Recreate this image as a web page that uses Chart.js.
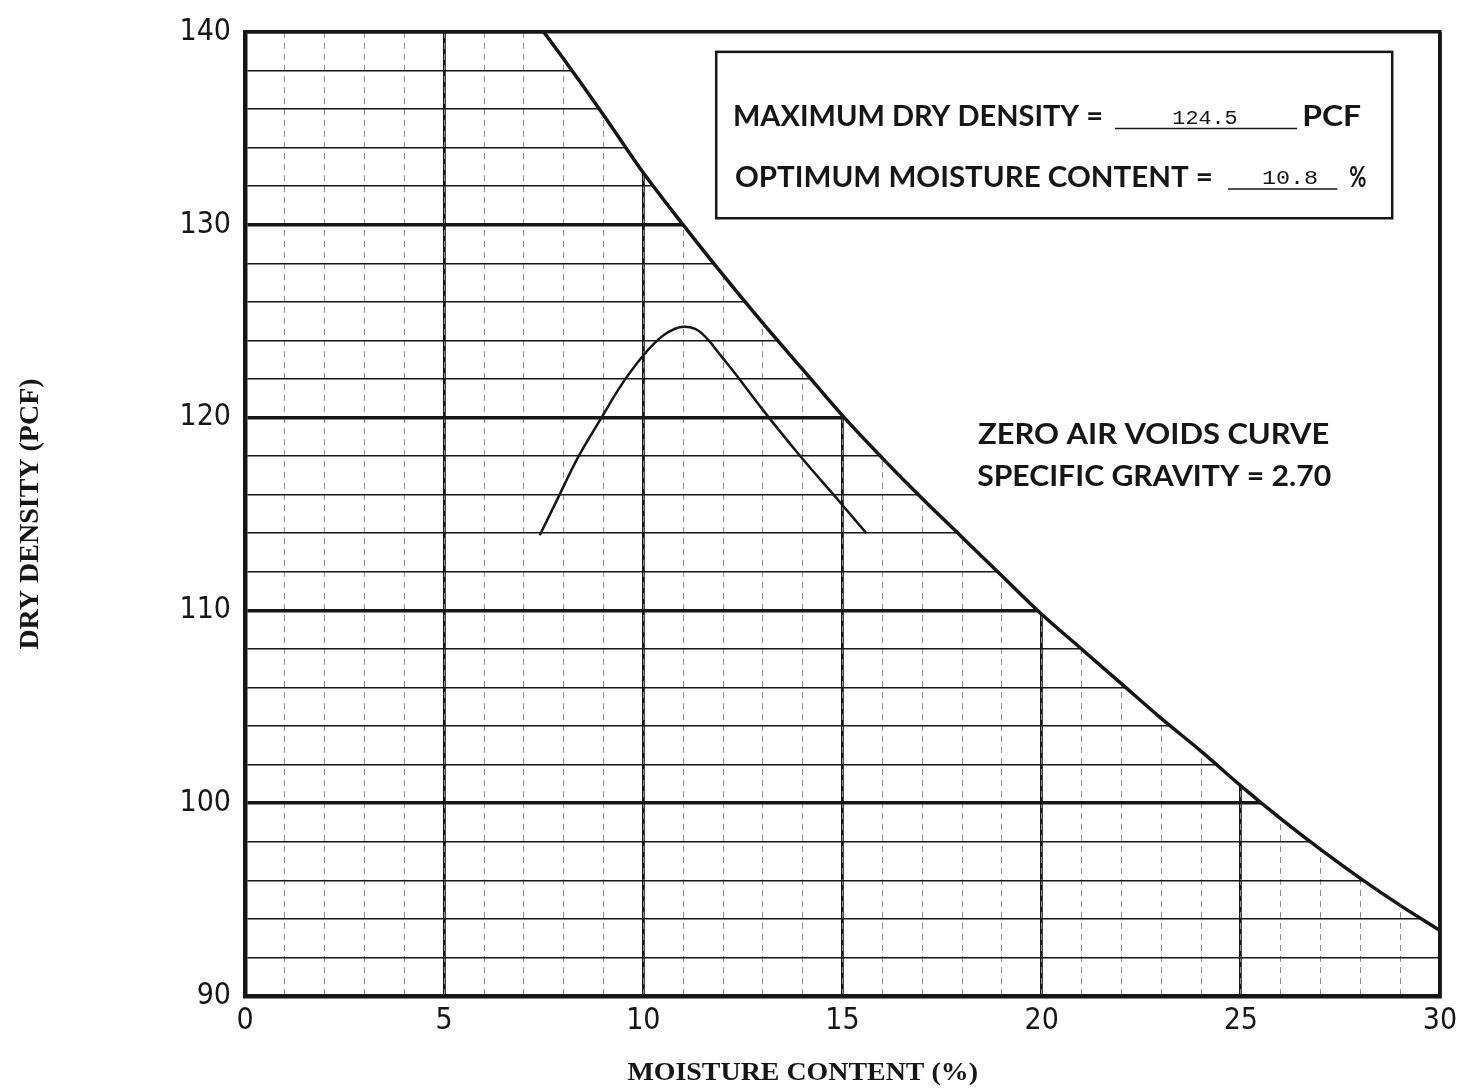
<!DOCTYPE html>
<html>
<head>
<meta charset="utf-8">
<script src="https://cdn.jsdelivr.net/npm/chart.js@4.4.1/dist/chart.umd.min.js"></script>
<style>
  html, body { margin: 0; padding: 0; background: #fff; }
</style>
</head>
<body>
<canvas id="proctorChart" width="1470" height="1089"></canvas>
<script>
// tick labels
const moistureTicks = [0, 5, 10, 15, 20, 25, 30];
const densityTicks = [90, 100, 110, 120, 130, 140];

// zero air voids curve (Gs = 2.70)
const zavMoisture = [7.5, 8, 9, 10, 11, 12, 13, 14, 15, 16, 17, 18, 19, 20, 21, 22, 23, 24, 25, 26, 27, 28, 29, 30];
const zavDensity = [140.0, 138.6, 135.7, 132.7, 130.0, 127.4, 124.9, 122.5, 120.1, 117.9, 115.8, 113.8, 111.8, 109.8, 108.0, 106.2, 104.4, 102.7, 100.9, 99.2, 97.6, 96.1, 94.7, 93.4];

// compaction test curve
const testMoisture = [7.4, 7.85, 8.35, 8.95, 9.45, 9.95, 10.3, 10.6, 10.95, 11.3, 11.6, 11.95, 12.3, 13.0, 13.9, 14.9, 15.6];
const testDensity = [113.9, 115.8, 117.9, 120.0, 121.7, 123.1, 123.9, 124.4, 124.7, 124.6, 124.1, 123.2, 122.3, 120.4, 118.1, 115.7, 114.0];

const maxDryDensity = '124.5';
const optMoisture = '10.8';

const ink = '#161616';
const tickFont = "'Liberation Sans Narrow', 'DejaVu Sans Condensed', sans-serif";
const noteFont = "Lato, 'Open Sans', sans-serif";
const titleFont = "'Liberation Serif', 'DejaVu Serif', serif";

// draws text squeezed to the width it has on the sheet (data units)
function fitText(chart, text, x1, x2, py, font) {
  const xs = chart.scales.x, c = chart.ctx;
  const px1 = xs.getPixelForValue(x1), px2 = xs.getPixelForValue(x2);
  c.save();
  c.font = font;
  c.fillStyle = ink;
  c.textAlign = 'left';
  c.textBaseline = 'alphabetic';
  const w = c.measureText(text).width;
  c.translate(px1, py);
  c.scale((px2 - px1) / w, 1);
  c.fillText(text, 0, 0);
  c.restore();
}

function hLine(chart, x1, x2, yv, width) {
  const xs = chart.scales.x, ys = chart.scales.y, c = chart.ctx;
  const py = ys.getPixelForValue(yv);
  c.save();
  c.strokeStyle = ink;
  c.lineWidth = width;
  c.beginPath();
  c.moveTo(xs.getPixelForValue(x1), py);
  c.lineTo(xs.getPixelForValue(x2), py);
  c.stroke();
  c.restore();
}

const notesPlugin = {
  id: 'notes',
  afterDraw(chart) {
    const xs = chart.scales.x, ys = chart.scales.y, c = chart.ctx;
    const yp = v => ys.getPixelForValue(v);
    // result box
    const bx1 = xs.getPixelForValue(11.83), bx2 = xs.getPixelForValue(28.8);
    const by1 = yp(138.97), by2 = yp(130.34);
    c.save();
    c.fillStyle = '#fff';
    c.fillRect(bx1, by1, bx2 - bx1, by2 - by1);
    c.strokeStyle = ink;
    c.lineWidth = 2.5;
    c.strokeRect(bx1, by1, bx2 - bx1, by2 - by1);
    c.restore();

    const bold = 'bold 28px ' + noteFont;
    const mono = "20px 'Liberation Mono', 'DejaVu Sans Mono', monospace";
    fitText(chart, 'MAXIMUM DRY DENSITY =', 12.25, 21.54, yp(135.12), bold);
    hLine(chart, 21.84, 26.41, 135.0, 1.5);
    fitText(chart, maxDryDensity, 23.28, 24.92, yp(135.25), mono);
    fitText(chart, 'PCF', 26.54, 28.02, yp(135.12), bold);

    fitText(chart, 'OPTIMUM MOISTURE CONTENT =', 12.3, 24.3, yp(131.98), bold);
    hLine(chart, 24.68, 27.42, 131.86, 1.5);
    fitText(chart, optMoisture, 25.53, 26.94, yp(132.1), mono);
    fitText(chart, '%', 27.72, 28.15, yp(131.98), bold);

    fitText(chart, 'ZERO AIR VOIDS CURVE', 18.4, 27.22, yp(118.62), bold);
    fitText(chart, 'SPECIFIC GRAVITY = 2.70', 18.38, 27.27, yp(116.46), bold);

    // x axis title sits left of centre on the sheet
    fitText(chart, 'MOISTURE CONTENT (%)', 9.6, 18.4, chart.chartArea.bottom + 84, 'bold 26px ' + titleFont);
  }
};

new Chart(document.getElementById('proctorChart'), {
  type: 'scatter',
  data: {
    datasets: [
      {
        label: 'Zero air voids',
        data: zavMoisture.map((x, i) => ({ x: x, y: zavDensity[i] })),
        showLine: true,
        borderColor: ink,
        borderWidth: 3.5,
        pointRadius: 0,
        cubicInterpolationMode: 'monotone',
        fill: 'end',
        backgroundColor: '#fff'
      },
      {
        label: 'Compaction',
        data: testMoisture.map((x, i) => ({ x: x, y: testDensity[i] })),
        showLine: true,
        borderColor: ink,
        borderWidth: 2.5,
        pointRadius: 0,
        tension: 0.4,
        fill: false
      }
    ]
  },
  options: {
    responsive: false,
    animation: false,
    devicePixelRatio: 1,
    layout: { padding: { top: 22, right: 30, left: 0, bottom: 0 } },
    plugins: { legend: { display: false }, tooltip: { enabled: false } },
    scales: {
      x: {
        type: 'linear',
        position: 'bottom',
        min: 0,
        max: 30,
        afterBuildTicks: s => { s.ticks = moistureTicks.map(v => ({ value: v })); },
        grid: { color: ink, lineWidth: 2.8, drawTicks: false },
        border: { display: true, color: ink, width: 4.5, z: 1 },
        ticks: { color: ink, font: { family: tickFont, size: 30 }, padding: 7, maxRotation: 0, autoSkip: false },
        afterFit: s => { s.height = 93; }
      },
      xMinor: {
        type: 'linear',
        position: 'top',
        min: 0,
        max: 30,
        ticks: { display: false, stepSize: 1, autoSkip: false },
        grid: { color: '#8c8c8c', lineWidth: 1, drawTicks: false },
        border: { display: false, dash: [6, 5] },
        afterFit: s => { s.height = 0; }
      },
      xTop: {
        type: 'linear',
        position: 'top',
        min: 0,
        max: 30,
        ticks: { display: false },
        grid: { display: false, drawTicks: false },
        border: { display: true, color: ink, width: 3.5, z: 1 },
        afterFit: s => { s.height = 0; }
      },
      y: {
        type: 'linear',
        position: 'left',
        min: 90,
        max: 140,
        ticks: {
          stepSize: 2,
          autoSkip: false,
          color: ink,
          padding: 14,
          font: { family: tickFont, size: 30 },
          callback: v => densityTicks.includes(v) ? String(v) : ''
        },
        grid: {
          drawTicks: false,
          color: ink,
          lineWidth: c => (c.tick && densityTicks.includes(c.tick.value)) ? 3.5 : 1.6
        },
        border: { display: true, color: ink, width: 4.5, z: 1 },
        title: {
          display: true,
          text: 'DRY DENSITY (PCF)',
          color: ink,
          font: { family: titleFont, size: 28, weight: 'bold' },
          padding: { top: 14 }
        },
        afterFit: s => { s.width = 245; }
      },
      yRight: {
        type: 'linear',
        position: 'right',
        min: 90,
        max: 140,
        ticks: { display: false },
        grid: { display: false, drawTicks: false },
        border: { display: true, color: ink, width: 3.5, z: 1 },
        afterFit: s => { s.width = 0; }
      }
    }
  },
  plugins: [notesPlugin]
});
</script>
</body>
</html>
